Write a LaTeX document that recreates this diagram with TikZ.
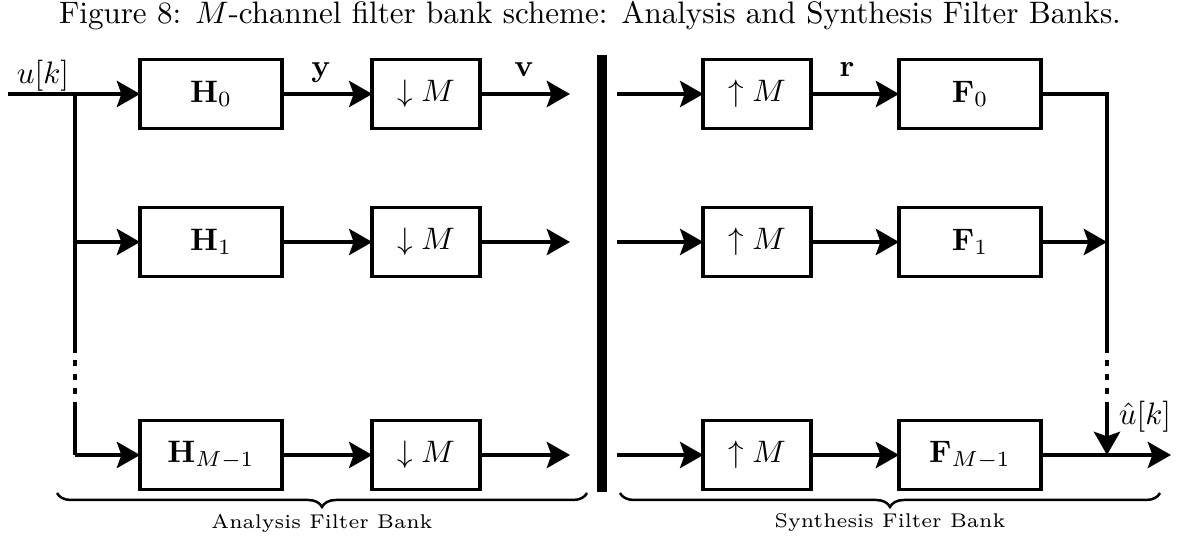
\documentclass[tikz,border=0pt]{standalone}
\usetikzlibrary{arrows.meta,decorations.pathreplacing}
\begin{document}
\begin{tikzpicture}[x=0.322pt,y=-0.322pt,
  blk/.style={draw,line width=1.2pt,minimum height=22.2pt,inner sep=0pt,outer sep=0pt,font=\normalsize},
  wide/.style={blk,minimum width=45.7pt},
  narrow/.style={blk,minimum width=34.6pt},
  sig/.style={line width=1pt},
  arr/.style={sig,-{Stealth[length=7.5pt,width=8.5pt,inset=1.5pt]}},
  gapline/.style={sig,dash pattern=on 1.93pt off 2.58pt,dash phase=2.25pt},
  bank/.style={decorate,decoration={brace,mirror,amplitude=4.5pt},line width=0.8pt},
  banklbl/.style={font=\fontsize{6.4}{7.6}\selectfont,inner sep=0pt},
  lbl/.style={inner sep=0pt,anchor=base}]
\useasboundingbox (0,0) rectangle (1191,540);

% caption
\node[lbl] (cap) at (590,24) {Figure 8: $M$-channel filter bank scheme: Analysis and Synthesis Filter Banks.};

% analysis bank
\node[wide]   (H0) at (211,94)  {$\mathbf{H}_0$};
\node[wide]   (H1) at (211,242) {$\mathbf{H}_1$};
\node[wide]   (HM) at (211,455) {$\mathbf{H}_{M-1}$};
\node[narrow] (D0) at (426,94)  {$\downarrow M$};
\node[narrow] (D1) at (426,242) {$\downarrow M$};
\node[narrow] (DM) at (426,455) {$\downarrow M$};

\coordinate (in)  at (8,94);
\coordinate (br0) at (75,94);
\coordinate (br1) at (75,242);
\coordinate (brA) at (75,353);
\coordinate (brB) at (75,404);
\coordinate (br2) at (75,455);
\coordinate (o0) at (570,94);
\coordinate (o1) at (570,242);
\coordinate (o2) at (570,455);

\draw[arr] (in) -- (H0.west);
\draw[sig] (br0) -- (brA);
\draw[gapline] (brA) -- (brB);
\draw[sig] (brB) -- (br2);
\draw[arr] (br1) -- (H1.west);
\draw[arr] (br2) -- (HM.west);
\draw[arr] (H0) -- (D0);
\draw[arr] (H1) -- (D1);
\draw[arr] (HM) -- (DM);
\draw[arr] (D0) -- (o0);
\draw[arr] (D1) -- (o1);
\draw[arr] (DM) -- (o2);

\node[lbl] (ulab) at (43,84) {$u[k]$};
\node[lbl] (ylab) at (321,77) {$\mathbf{y}$};
\node[lbl] (vlab) at (524,77) {$\mathbf{v}$};

% separator between the two banks
\coordinate (sepT) at (602,55);
\coordinate (sepB) at (602,492);
\draw[line width=3.2pt] (sepT) -- (sepB);

% synthesis bank
\node[narrow] (U0) at (757,94)  {$\uparrow M$};
\node[narrow] (U1) at (757,242) {$\uparrow M$};
\node[narrow] (UM) at (757,455) {$\uparrow M$};
\node[wide]   (F0) at (970,94)  {$\mathbf{F}_0$};
\node[wide]   (F1) at (970,242) {$\mathbf{F}_1$};
\node[wide]   (FM) at (970,455) {$\mathbf{F}_{M-1}$};

\coordinate (i0) at (617,94);
\coordinate (i1) at (617,242);
\coordinate (i2) at (617,455);
\coordinate (s0) at (1107,94);
\coordinate (s1) at (1107,242);
\coordinate (sA) at (1107,353);
\coordinate (sB) at (1107,404);
\coordinate (s2) at (1107,455);
\coordinate (out) at (1171,455);

\draw[arr] (i0) -- (U0.west);
\draw[arr] (i1) -- (U1.west);
\draw[arr] (i2) -- (UM.west);
\draw[arr] (U0) -- (F0);
\draw[arr] (U1) -- (F1);
\draw[arr] (UM) -- (FM);
\draw[sig] (F0.east) -- (s0) -- (sA);
\draw[gapline] (sA) -- (sB);
\draw[arr] (sB) -- (s2);
\draw[arr] (F1.east) -- (s1);
\draw[arr] (FM.east) -- (out);

\node[lbl] (rlab) at (847,77) {$\mathbf{r}$};
\node[lbl] (uhat) at (1145,425) {$\hat{u}[k]$};

% braces naming the two banks
\coordinate (aL) at (57,493);
\coordinate (aR) at (587,493);
\coordinate (sL) at (620,493);
\coordinate (sR) at (1160,493);
\draw[bank] (aL) -- (aR);
\draw[bank] (sL) -- (sR);
\node[banklbl] (alab) at (322,523) {Analysis Filter Bank};
\node[banklbl] (slab) at (890,523) {Synthesis Filter Bank};
\end{tikzpicture}
\end{document}
